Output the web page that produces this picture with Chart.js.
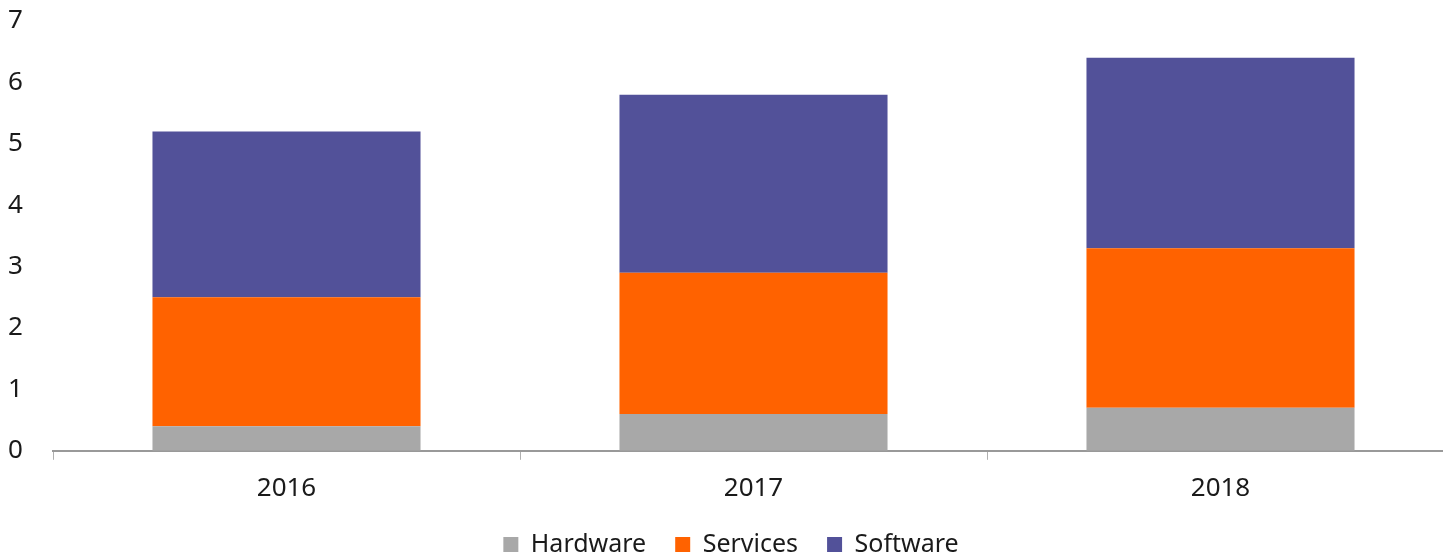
<!DOCTYPE html>
<html lang="en">
<head>
    <meta charset="UTF-8">
    <title>Hardware, Services, Software</title>
    <script src="https://cdn.jsdelivr.net/npm/chart.js"></script>
    <style>
        html, body {
            margin: 0;
            padding: 0;
            background: #fff;
            overflow: hidden;
        }
        .wrap {
            position: relative;
            width: 1460px;
            height: 567px;
        }
    </style>
</head>
<body>
    <div class="wrap">
        <canvas id="chart"></canvas>
    </div>

    <script>
        const years = ['2016', '2017', '2018'];
        const hardware = [0.4, 0.6, 0.7];
        const services = [2.1, 2.3, 2.6];
        const software = [2.7, 2.9, 3.1];
        const yTicks = [0, 1, 2, 3, 4, 5, 6, 7];

        const family = '"Noto Sans", "Open Sans", sans-serif';
        const tickFont = { family: family, size: 26 };
        const legendFont = { family: family, size: 25 };
        const textColor = '#1a1a1a';

        new Chart(document.getElementById('chart'), {
            type: 'bar',
            data: {
                labels: years,
                datasets: [
                    { label: 'Hardware', data: hardware, backgroundColor: '#a8a8a8' },
                    { label: 'Services', data: services, backgroundColor: '#ff6200' },
                    { label: 'Software', data: software, backgroundColor: '#525199' }
                ]
            },
            options: {
                responsive: true,
                maintainAspectRatio: false,
                animation: false,
                layout: { padding: { left: 8, right: 6, top: 21, bottom: 0 } },
                datasets: {
                    bar: { categoryPercentage: 1, barPercentage: 0.574 }
                },
                plugins: {
                    legend: {
                        position: 'bottom',
                        labels: {
                            font: legendFont,
                            color: textColor,
                            boxWidth: 15,
                            boxHeight: 15,
                            padding: 29
                        }
                    },
                    tooltip: { enabled: false }
                },
                scales: {
                    x: {
                        stacked: true,
                        // pull the legend up closer to the year labels
                        afterFit: axis => { axis.height -= 14; },
                        grid: {
                            display: true,
                            offset: true,
                            drawOnChartArea: false,
                            tickLength: 9,
                            color: '#b0b0b0'
                        },
                        border: { display: true, color: '#999', width: 2 },
                        ticks: { font: tickFont, color: textColor, padding: 13 }
                    },
                    y: {
                        stacked: true,
                        min: 0,
                        max: 7,
                        afterBuildTicks: axis => {
                            axis.ticks = yTicks.map(v => ({ value: v }));
                        },
                        afterFit: axis => { axis.width = 45; },
                        grid: { display: false },
                        border: { display: false },
                        ticks: {
                            font: tickFont,
                            color: textColor,
                            crossAlign: 'far',
                            padding: 0
                        }
                    }
                }
            }
        });
    </script>
</body>
</html>
